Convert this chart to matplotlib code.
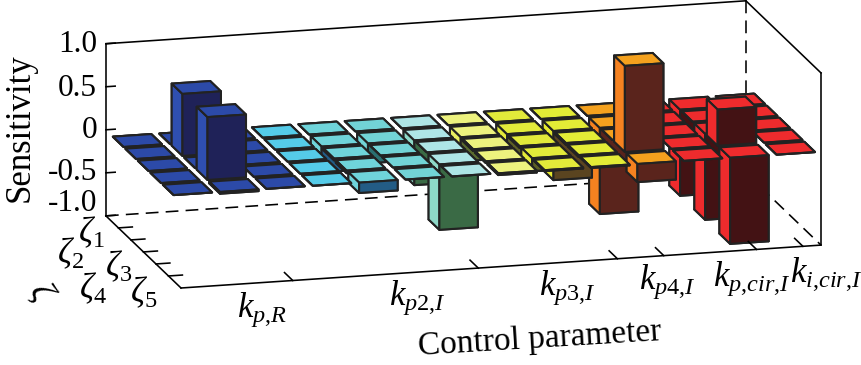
"""3D bar chart of sensitivity against control parameter and zeta, view fitted to the frame."""
import matplotlib
matplotlib.use("Agg")
import matplotlib.pyplot as plt
from mpl_toolkits.mplot3d import proj3d

plt.rcParams["font.family"] = ["Liberation Serif", "DejaVu Serif"]
plt.rcParams["mathtext.fontset"] = "custom"
plt.rcParams["mathtext.rm"] = "Liberation Serif"
plt.rcParams["mathtext.it"] = "Liberation Serif:italic"

# rows are zeta 1..5 (back to front), columns run left to right
zeta_1 = [0, 0, 0, 0, 0, 0, 0, 0, 0, 0, 0, 0, -1.0, 0]
zeta_2 = [0, 0.72, 0, 0, -0.30, -0.23, -0.52, -0.28, -0.45, -0.57, -1.0, 0, 0, 0]
zeta_3 = [0, 0, 0, 0, -0.02, 0, 0, -0.02, -0.02, -0.02, 0, 0, -1.0, 0]
zeta_4 = [0, 0.73, 0, 0, -0.03, 0, -0.76, -0.02, -0.15, -0.02, 1.0, 0, 0.42, 0]
zeta_5 = [0, -0.02, 0, 0, -0.12, 0, 0, -0.02, -0.01, -0.01, -0.21, 0, -1.0, 0]
sensitivity = [zeta_1, zeta_2, zeta_3, zeta_4, zeta_5]

top_colors = ["#2c4aa8", "#2c4aa8", "#2c4aa8", "#55cbe8", "#6fd4da", "#72d3d6", "#aee5e6",
              "#edf27e", "#e2ea3a", "#e3ec36", "#f4a11e", "#ee2b2d", "#ee2b2d", "#ee2b2d"]
side_colors = ["#2f4fb0", "#2f4fb0", "#2f4fb0", "#55cbe8", "#6fd4da", "#72d3d6", "#8ed8c8",
               "#e8ee60", "#e3e93a", "#e6ea30", "#f58220", "#ee2b2d", "#ee2b2d", "#ee2b2d"]
front_colors = ["#1f2258", "#1f2258", "#1f2258", "#205a80", "#235c85", "#2a6f70", "#3a6a45",
                "#5a6a2e", "#5d5f25", "#5a4420", "#5a241c", "#431214", "#431214", "#431214"]

x_ticks = [3, 7, 10, 11, 13, 14]
x_tick_labels = [r"$k_{p{,}R}$", r"$k_{p2{,}I}$", r"$k_{p3{,}I}$", r"$k_{p4{,}I}$",
                 r"$k_{p{,}cir{,}I}$", r"$k_{i{,}cir{,}I}$"]
x_label_px = [(262, 310), (417, 298), (567, 288), (667, 282), (752, 279), (826, 274)]
zeta_labels = [r"$\zeta_1$", r"$\zeta_2$", r"$\zeta_3$", r"$\zeta_4$", r"$\zeta_5$"]
zeta_label_px = [(91, 233), (70, 254), (119, 267), (93, 289), (144, 293)]
z_ticks = [-1.0, -0.5, 0, 0.5, 1.0]
z_tick_labels = ["-1.0", "-0.5", "0", "0.5", "1.0"]
z_label_px = [203, 173, 131, 88, 45]

XLIM = (0.59, 14.39)
YLIM = (-6, 0)
ZLIM = (-1, 1)
BAR_W = 0.83
BAR_D = 0.86
W, H = 861, 365
EDGE = "#222222"

fig = plt.figure(figsize=(W / 100, H / 100), dpi=100)
ax = fig.add_axes([0.1, -0.3, 0.8, 1.6], projection="3d", computed_zorder=False)
ax.set_proj_type("ortho")
ax.view_init(elev=14.7, azim=-104.8)
ax.set_box_aspect((662, 294, 178))
ax.set_axis_off()
ax.patch.set_alpha(0)

# painter's order: back row first, right column first
for r, row in enumerate(sensitivity):
    for i in reversed(range(len(row))):
        v = row[i]
        faces = [top_colors[i], top_colors[i], front_colors[i], front_colors[i], side_colors[i], side_colors[i]]
        ax.bar3d(i + 1 - BAR_W / 2, -(r + 1) - BAR_D / 2, min(v, 0), BAR_W, BAR_D, abs(v),
                 color=faces, edgecolor=EDGE, linewidth=1.5, shade=False, zorder=10 + r * 20 + (13 - i))

ax.set_xlim(*XLIM, view_margin=0)
ax.set_ylim(*YLIM, view_margin=0)
ax.set_zlim(*ZLIM, view_margin=0)


def frame_line(a, b, zorder, **kw):
    ax.plot([a[0], b[0]], [a[1], b[1]], [a[2], b[2]], color="black", linewidth=1.15, zorder=zorder,
            solid_capstyle="projecting", clip_on=False, **kw)


x0, x1 = XLIM
y0, y1 = YLIM
z0, z1 = ZLIM
dashes = (0, (8, 4.5))
frame_line((x0, y1, z0), (x1, y1, z0), 1, linestyle=dashes)
frame_line((x1, y1, z0), (x1, y1, z1), 1, linestyle=dashes)
frame_line((x1, y1, z0), (x1, y0, z0), 1, linestyle=dashes)
frame_line((x0, y1, z0), (x0, y1, z1), 2)
frame_line((x0, y1, z1), (x1, y1, z1), 2)
frame_line((x1, y1, z1), (x1, y0, z1), 200)
frame_line((x1, y0, z1), (x1, y0, z0), 200)
frame_line((x0, y1, z0), (x0, y0, z0), 200)
frame_line((x0, y0, z0), (x1, y0, z0), 200)

for z in z_ticks:
    frame_line((x0, y1, z), (x0 + 0.2, y1, z), 2)
for r in range(1, 6):
    frame_line((x0, -r, z0), (x0 + 0.3, -r, z0), 200)
for x in x_ticks:
    frame_line((x, y0, z0), (x, y0 + 0.66, z0), 200)


def to_px(pt):
    px, py, _ = proj3d.proj_transform(pt[0], pt[1], pt[2], ax.get_proj())
    return ax.transData.transform((px, py))


# fit the square axes so the floor's front edge lands where the frame sits
target_left = (181, H - 288)
target_right = (821, H - 245)
for _ in range(3):
    ax.apply_aspect()
    a = to_px((x0, y0, z0))
    b = to_px((x1, y0, z0))
    scale = (target_right[0] - target_left[0]) / (b[0] - a[0])
    pos = ax.get_position(original=True)
    w_px, h_px = pos.width * W * scale, pos.height * H * scale
    side = max(w_px, h_px)
    l_px = pos.x0 * W
    b_px = pos.y0 * H
    ax.set_position([l_px / W, b_px / H, side / W, side / H])
    ax.apply_aspect()
    a = to_px((x0, y0, z0))
    ax.set_position([(l_px + target_left[0] - a[0]) / W, (b_px + target_left[1] - a[1]) / H, side / W, side / H])


def px_text(x, y, s, size, **kw):
    kw.setdefault("ha", "center")
    kw.setdefault("va", "center")
    fig.text(x / W, 1 - y / H, s, fontsize=size, **kw)


for y, s in zip(z_label_px, z_tick_labels):
    px_text(97, y, s, 22.5, ha="right")
px_text(20, 128, "Sensitivity", 25, rotation=90)
px_text(540, 339, "Control parameter", 24, rotation=3.5, rotation_mode="anchor")
for (x, y), s in zip(x_label_px, x_tick_labels):
    px_text(x, y, s, 25)
for (x, y), s in zip(zeta_label_px, zeta_labels):
    px_text(x, y, s, 25)
px_text(41, 293, r"$\zeta$", 25, rotation=-60)

fig.savefig("out.png", dpi=100)
plt.close(fig)
